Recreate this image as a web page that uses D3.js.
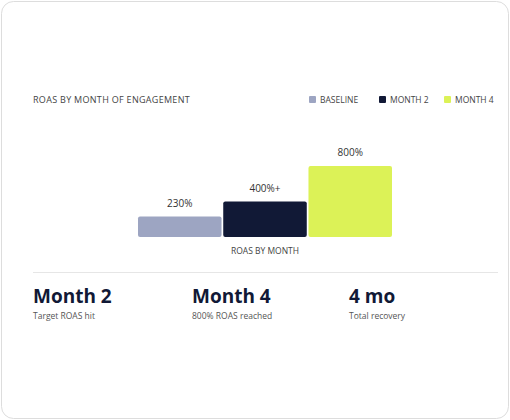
<!DOCTYPE html><html><head><meta charset="utf-8"><script src="https://d3js.org/d3.v7.min.js"></script>
<style>body{margin:0;background:#fff;font-family:"Open Sans",sans-serif}</style></head><body><svg id="c" width="510" height="420"></svg>
<script>
const categories=["BASELINE","MONTH 2","MONTH 4"];
const values=[230,400,800];
const valueLabels=["230%","400%+","800%"];
const colors=["#9da5c2","#111936","#dcf257"];
const stats=[["Month 2","Target ROAS hit"],["Month 4","800% ROAS reached"],["4 mo","Total recovery"]];
const svg=d3.select("#c");
svg.append("rect").attr("x",1.5).attr("y",1.5).attr("width",507).attr("height",417).attr("rx",12).attr("fill","#fff").attr("stroke","#ddd");
svg.append("text").attr("x",33).attr("y",103).attr("font-size",9).attr("fill","#444").attr("letter-spacing",0.3).text("ROAS BY MONTH OF ENGAGEMENT");
const lx=[309,379,444];
categories.forEach((c,i)=>{svg.append("rect").attr("x",lx[i]).attr("y",96).attr("width",7).attr("height",7).attr("rx",1).attr("fill",colors[i]);
svg.append("text").attr("x",lx[i]+11).attr("y",103).attr("font-size",8.5).attr("fill","#444").text(c);});
const x=d3.scaleBand().domain(categories).range([138,392]).paddingInner(0.02);
const y=d3.scaleLinear().domain([0,800]).range([237,166]);
const g=svg.append("g");
g.selectAll("rect").data(values).join("rect").attr("x",(d,i)=>x(categories[i])).attr("y",d=>y(d)).attr("width",x.bandwidth()).attr("height",d=>237-y(d)).attr("rx",2).attr("fill",(d,i)=>colors[i]);
g.selectAll("text").data(values).join("text").attr("x",(d,i)=>x(categories[i])+x.bandwidth()/2).attr("y",d=>y(d)-10).attr("text-anchor","middle").attr("font-size",10).attr("fill","#333").text((d,i)=>valueLabels[i]);
svg.append("text").attr("x",265).attr("y",254).attr("text-anchor","middle").attr("font-size",8.5).attr("fill","#444").text("ROAS BY MONTH");
svg.append("line").attr("x1",33).attr("x2",498).attr("y1",272.5).attr("y2",272.5).attr("stroke","#e6e6e6");
const sx=[33,192,349];
stats.forEach((s,i)=>{svg.append("text").attr("x",sx[i]).attr("y",303).attr("font-size",19).attr("font-weight","bold").attr("fill","#111936").text(s[0]);
svg.append("text").attr("x",sx[i]).attr("y",319).attr("font-size",8.5).attr("fill","#555").text(s[1]);});
</script></body></html>
